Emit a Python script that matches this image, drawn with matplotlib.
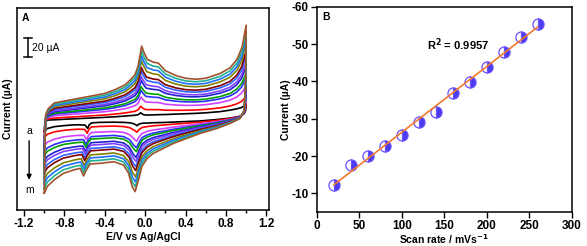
import numpy as np
import matplotlib
matplotlib.use("Agg")
import matplotlib.pyplot as plt
from matplotlib.ticker import MultipleLocator

plt.rcParams['font.family'] = ['Liberation Sans', 'DejaVu Sans']
plt.rcParams['font.weight'] = 'bold'
plt.rcParams['axes.unicode_minus'] = False
plt.rcParams['mathtext.default'] = 'bf'

# ---- panel A: CV curves, innermost (a) and outermost (m)
# forward sweep (-1.0 -> 1.0)
E_up_a = [-1.0, -0.997, -0.985, -0.96, -0.9, -0.8, -0.7, -0.6, -0.5, -0.4, -0.3, -0.2, -0.15, -0.1, -0.07,
          -0.045, -0.025, 0.0, 0.08, 0.13, 0.2, 0.3, 0.4, 0.5, 0.6, 0.74, 0.84, 0.9, 0.95, 1.0]
I_up_a = [-14, -8, -3, -2, -1.8, -1.2, -0.7, -0.2, 0.3, 0.8, 1.4, 2.2, 2.6, 3.0, 3.6,
          5.6, 4.0, 3.2, 3.4, 3.6, 3.8, 4.2, 4.6, 5.0, 5.6, 6.8, 8.4, 9.6, 11, 14]
E_up_m = [-1.0, -0.997, -0.985, -0.96, -0.9, -0.8, -0.7, -0.6, -0.5, -0.4, -0.3, -0.2, -0.15, -0.1, -0.07,
          -0.035, -0.015, 0.02, 0.08, 0.13, 0.2, 0.3, 0.4, 0.5, 0.6, 0.74, 0.84, 0.91, 0.96, 1.0]
I_up_m = [-79, -40, 4, 10, 16, 18, 20, 22, 24, 26, 30, 35, 40, 46, 55,
          76, 70, 62, 59, 58, 50, 45, 42, 41, 42, 47, 53, 62, 75, 98]
# reverse sweep (1.0 -> -1.0)
E_dn_a = [1.0, 0.995, 0.98, 0.94, 0.84, 0.71, 0.545, 0.41, 0.28, 0.18, 0.08, 0.02, -0.03, -0.06, -0.08,
          -0.11, -0.15, -0.21, -0.31, -0.45, -0.53, -0.555, -0.57, -0.595, -0.66, -0.72, -0.81, -0.9, -0.97, -1.0]
I_dn_a = [14, 8, 4.5, 2, 0, -1.5, -3, -3.6, -4.2, -4.6, -4.9, -5.2, -5.4, -6.2, -8,
          -6, -5, -4.5, -4.3, -4.5, -5, -7, -11, -7.4, -7, -7.2, -8, -9, -11, -14]
E_dn_m = [1.0, 0.995, 0.98, 0.94, 0.84, 0.71, 0.545, 0.41, 0.28, 0.18, 0.08, 0.02, -0.033, -0.066, -0.1,
          -0.13, -0.165, -0.215, -0.31, -0.45, -0.545, -0.584, -0.611, -0.644, -0.71, -0.76, -0.81, -0.9, -0.97, -1.0]
I_dn_m = [98, 40, 8, -0.3, -5.6, -10.9, -16.1, -21.4, -26.7, -31.9, -37.2, -42.5, -51, -65, -77.5,
          -72, -58, -49.5, -46, -47.7, -48.4, -54.7, -61, -53, -54.7, -56.5, -58.2, -65, -72, -79]

# position of each curve between a and m (read at the anodic peak)
curve_pos = [0, 0.099, 0.236, 0.335, 0.394, 0.483, 0.542, 0.621, 0.68, 0.778, 0.852, 0.926, 1.0]
curve_col = ['#000000', '#ff0000', '#d040ff', '#3030ff', '#00a000', '#2020cc', '#8040ff',
             '#3060ff', '#800000', '#808000', '#2070ff', '#20b090', '#a0522d']

# ---- panel B: peak current vs scan rate
scan_rate = [20, 40, 60, 80, 100, 120, 140, 160, 180, 200, 220, 240, 260]
peak_cur = [-12.3, -17.5, -20.1, -22.6, -25.7, -29.2, -31.9, -36.8, -39.9, -43.8, -48.0, -51.8, -55.5]

fig = plt.figure(figsize=(5.87, 2.46), dpi=100)
axA = fig.add_axes([0.029, 0.146, 0.429, 0.821])
axB = fig.add_axes([0.540, 0.138, 0.434, 0.834])

Ea = np.concatenate([E_up_a, E_dn_a])
Ia = np.concatenate([I_up_a, I_dn_a])
Em = np.concatenate([E_up_m, E_dn_m])
Im = np.concatenate([I_up_m, I_dn_m])
for f, c in zip(curve_pos, curve_col):
    axA.plot(Ea + f * (Em - Ea), Ia + f * (Im - Ia), color=c, lw=1.2, solid_joinstyle='round')

axA.set_xlim(-1.27, 1.225)
axA.set_ylim(-97, 116)
axA.set_xticks(np.arange(-1.2, 1.21, 0.4))
axA.set_xticklabels(['%.1f' % v for v in np.arange(-1.2, 1.21, 0.4)])
axA.xaxis.set_minor_locator(MultipleLocator(0.2))
axA.set_yticks([])
axA.tick_params(axis='x', which='major', direction='out', length=4, width=1, labelsize=8.5, pad=2)
axA.tick_params(axis='x', which='minor', direction='out', length=2.5, width=1)
axA.set_xlabel('E/V vs Ag/AgCl', fontsize=7.5, fontweight='bold', labelpad=1)
axA.set_ylabel('Current (\u00b5A)', fontsize=7.5, fontweight='bold', labelpad=3)
for s in axA.spines.values():
    s.set_linewidth(1.1)
axA.text(0.02, 0.975, 'A', transform=axA.transAxes, fontsize=7.5, fontweight='bold', va='top')

# scale bar
axA.plot([-1.16, -1.16], [64, 84], color='black', lw=1.1)
axA.plot([-1.2, -1.12], [64, 64], color='black', lw=1.1)
axA.plot([-1.2, -1.12], [84, 84], color='black', lw=1.1)
axA.text(-1.12, 74, '20 \u00b5A', fontsize=7.5, fontweight='normal', va='center')
# a -> m arrow
axA.text(-1.15, -14, 'a', fontsize=7.5, fontweight='normal', ha='center', va='center')
axA.annotate('', xy=(-1.15, -68), xytext=(-1.15, -21),
             arrowprops=dict(arrowstyle='-|>', color='black', lw=1.0, mutation_scale=7))
axA.text(-1.15, -76, 'm', fontsize=7.5, fontweight='normal', ha='center', va='center')

# panel B
slope, icpt = np.polyfit(scan_rate, peak_cur, 1)
xs = np.array([scan_rate[0], scan_rate[-1]])
axB.plot(scan_rate, peak_cur, ls='none', marker='o', ms=8, fillstyle='right',
         markerfacecolor='#4a3cf0', markerfacecoloralt='white', markeredgecolor='#6a50ff',
         markeredgewidth=0.9, zorder=2)
axB.plot(xs, slope * xs + icpt, color='#f27a2e', lw=1.2, zorder=3)
axB.set_xlim(0, 300)
axB.set_ylim(-5, -60)
axB.set_xticks(np.arange(0, 301, 50))
axB.set_yticks(np.arange(-10, -61, -10))
axB.tick_params(direction='out', length=4, width=1, labelsize=8.5, pad=2)
axB.set_xlabel('Scan rate / mVs$^{-1}$', fontsize=7.5, fontweight='bold', labelpad=0)
axB.set_ylabel('Current (\u00b5A)', fontsize=7.5, fontweight='bold', labelpad=0.5)
for s in axB.spines.values():
    s.set_linewidth(1.1)
axB.text(0.02, 0.975, 'B', transform=axB.transAxes, fontsize=7.5, fontweight='bold', va='top')
axB.text(130, -48.5, 'R$^{2}$ = 0.9957', fontsize=8, fontweight='bold')

fig.savefig('out.png', dpi=100)
